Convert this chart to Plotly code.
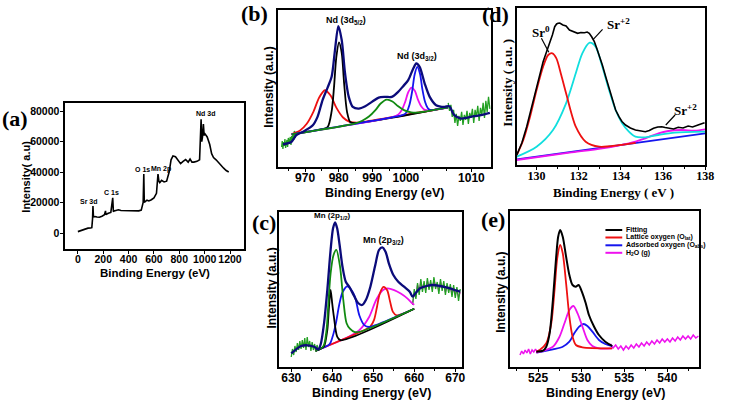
import numpy as np
import plotly.graph_objects as go

W, H = 730, 402
SANS = "Liberation Sans, Arial, sans-serif"
SERIF = "Liberation Serif, Times New Roman, serif"

# ---------------- (a) survey spectrum ----------------
a_be = [0, 20, 40, 60, 80, 100, 110, 116, 119, 123, 135, 150, 170, 190, 210, 218, 221, 225, 240, 260, 275,
        280, 285, 300, 320, 340, 360, 380, 400, 420, 440, 460, 480, 500, 515, 520, 524, 529, 545, 560, 580,
        600, 620, 632, 639, 646, 660, 680, 700, 720, 735, 750, 770, 790, 810, 830, 850, 870, 885, 900, 915,
        940, 960, 972, 977, 983, 990, 996, 1003, 1020, 1040, 1055, 1070, 1090, 1110, 1130, 1150, 1170,
        1190, 1200]
a_int = [900, 1500, 2500, 3000, 3200, 3300, 3500, 9500, 17700, 10500, 10800, 10500, 10300, 11000, 12000,
         14500, 12000, 12300, 13000, 13500, 23100, 14000, 14500, 14800, 15200, 14800, 14700, 14600, 14500,
         14400, 14300, 14200, 14500, 15000, 20000, 38700, 20000, 20500, 21500, 21000, 21800, 23000, 26000,
         38700, 34000, 33000, 34500, 33500, 34000, 40000, 48000, 50500, 50000, 47500, 45500, 47000, 48200,
         46500, 48500, 46500, 46500, 47000, 48000, 74500, 60000, 63000, 71500, 64000, 65000, 63000, 58000,
         52000, 49500, 48000, 46000, 44000, 42500, 41000, 40000]
a_xticks = [0, 200, 400, 600, 800, 1000, 1200]
a_yticks = [0, 20000, 40000, 60000, 80000]
a_labels = ["Sr 3d", "C 1s", "O 1s", "Mn 2p", "Nd 3d"]
a_lab_x = [91, 267, 509, 652, 1007]
a_lab_y = [20500, 26700, 41800, 42200, 78500]

# ---------------- (b) Nd 3d ----------------
b_bg_x = [966.0, 1012.5]
b_bg_y = [32.6, 59.4]
b_raw_l_x = [963.0, 963.2, 963.4, 963.6, 963.8, 964.0, 964.2, 964.4, 964.6, 964.8, 965.0, 965.2, 965.4,
             965.6, 965.8, 966.0, 966.2, 966.4, 966.6, 966.8, 967.0, 967.2, 967.4, 967.6]
b_raw_l_y = [20, 26, 18, 25, 21, 28, 19, 24, 27, 20, 29, 23, 26, 30, 22, 31, 25, 34, 27, 36, 29, 35, 31, 34]
b_raw_r_x = [1012.6, 1013.0, 1013.4, 1013.8, 1014.2, 1014.6, 1015.0, 1015.4, 1015.8, 1016.2, 1016.6,
             1017.0, 1017.4, 1017.8, 1018.2, 1018.6, 1019.0, 1019.4, 1019.8, 1020.2, 1020.6, 1021.0,
             1021.4, 1021.8, 1022.2, 1022.6, 1023.0, 1023.4, 1023.8, 1024.2, 1024.6, 1025.0]
b_raw_r_y = [64, 56, 62, 50, 57, 44, 53, 41, 51, 46, 55, 42, 52, 47, 56, 43, 54, 49, 58, 44, 57, 50, 61,
             46, 59, 52, 64, 49, 66, 55, 70, 58]
b_env_x = [963.4, 965.9, 967.4, 969.8, 972.3, 973.7, 975.2, 976.7, 977.9, 978.9, 979.9, 980.9, 981.9,
           983.0, 984.2, 986.0, 987.9, 989.9, 991.9, 993.8, 995.8, 997.7, 999.2, 1000.7, 1002.2, 1003.1,
           1004.1, 1005.6, 1007.1, 1009.0, 1011.5, 1012.9, 1014.4, 1016.4, 1018.3, 1020.3, 1022.3, 1025.0]
b_env_y = [22.7, 25, 31.7, 36, 41.7, 50, 66.7, 79.3, 90, 116.7, 140.7, 126.7, 93.3, 70, 60, 58.3, 60.7,
           65, 69.3, 70, 70, 75, 80.7, 86.7, 98.3, 103.3, 100, 83.3, 70, 61.7, 60, 60.7, 51.7, 48.3, 49.3,
           50.7, 51.7, 54]
b_red_x = [966.0, 968.5, 970.5, 972.5, 974.2, 975.9, 977.6, 979.3, 981.3, 983.3, 985.5, 988.0, 1012.5]
b_red_h = [0.3, 2.5, 8, 19, 32, 38.3, 32, 19, 8, 2.5, 0.5, 0, 0]
b_black_x = [966.0, 975.0, 976.7, 977.9, 978.6, 979.3, 980.1, 980.9, 981.6, 982.5, 983.5, 985.5, 1012.5]
b_black_h = [0, 0, 1, 16, 39.3, 69.3, 83.7, 72.7, 42.7, 12.7, 2, 0, 0]
b_green_x = [966.0, 985.0, 987.0, 989.0, 991.0, 992.5, 994.3, 996.0, 997.6, 999.6, 1001.6, 1004.0, 1012.5]
b_green_h = [0, 0, 1.5, 4.5, 10, 15.5, 18.3, 15.5, 10, 4.5, 1.5, 0, 0]
b_mag_x = [966.0, 996.0, 997.8, 998.8, 999.8, 1000.7, 1001.7, 1002.7, 1003.6, 1004.6, 1005.6, 1007.5, 1012.5]
b_mag_h = [0, 0, 1.6, 5.5, 13, 22, 26, 22, 13, 5.5, 1.6, 0, 0]
b_blue_x = [966.0, 998.5, 999.6, 1000.3, 1001.1, 1001.9, 1002.6, 1003.4, 1004.2, 1004.9, 1005.7, 1006.5,
            1007.2, 1008.5, 1012.5]
b_blue_h = [0, 0, 0.6, 2.9, 9.6, 22.8, 38.4, 45.7, 38.4, 22.8, 9.6, 2.9, 0.6, 0, 0]
b_tick_vals = [970, 980, 990, 1000, 1019.5]
b_tick_text = ["970", "980", "990", "1000", "1010"]

# ---------------- (c) Mn 2p ----------------
c_bg_x = [636.0, 660.0]
c_bg_y = [16.3, 58.2]
c_raw_l_x = [630.0, 630.3, 630.6, 630.9, 631.2, 631.5, 631.8, 632.1, 632.4, 632.7, 633.0, 633.3, 633.6,
             633.9, 634.2, 634.5, 634.8, 635.1, 635.4, 635.7, 636.0, 636.3, 636.6]
c_raw_l_y = [10, 18, 12, 21, 15, 24, 17, 26, 18, 27, 19, 29, 17, 30, 20, 26, 16, 25, 17, 23, 15, 22, 16]
c_raw_r_x = [659.6, 660.0, 660.4, 660.8, 661.2, 661.6, 662.0, 662.4, 662.8, 663.2, 663.6, 664.0, 664.4,
             664.8, 665.2, 665.6, 666.0, 666.4, 666.8, 667.2, 667.6, 668.0, 668.4, 668.8, 669.2, 669.6,
             670.0, 670.4, 670.8, 671.2]
c_raw_r_y = [62, 78, 68, 84, 72, 88, 75, 86, 74, 89, 77, 87, 75, 90, 78, 85, 73, 88, 76, 86, 72, 84, 74,
             83, 70, 82, 69, 80, 66, 78]
c_raw_r_y2 = [64, 74, 70, 82, 76, 85, 79, 83, 77, 86, 80, 84, 78, 87, 81, 83, 76, 85, 79, 83, 75, 81, 77,
              80, 73, 79, 72, 77, 70, 75]
c_env_x = [630.0, 631.2, 632.4, 634.0, 635.6, 636.6, 637.2, 638.0, 638.8, 639.6, 640.2, 640.7, 641.2,
           641.8, 642.5, 643.3, 644.2, 645.3, 646.3, 647.3, 648.2, 649.3, 650.5, 651.4, 652.2, 653.0,
           653.8, 654.9, 656.1, 657.5, 658.9, 659.6, 660.3, 661.4, 663.0, 664.6, 666.2, 667.8, 669.4, 671.2]
c_env_y = [13.7, 17.7, 21.0, 21.7, 20.3, 17.7, 23.0, 43.7, 77.0, 117.0, 138.7, 144.7, 138.7, 122.0,
           100.3, 85.3, 80.0, 71.3, 64.0, 62.0, 67.0, 80.3, 102.0, 117.0, 119.7, 115.3, 103.7, 92.0, 85.3,
           80.3, 75.3, 70.3, 73.7, 78.7, 81.0, 82.0, 81.0, 79.7, 77.7, 75.3]
c_green_x = [636, 637.8, 638.6, 639.0, 639.6, 640.3, 641.0, 641.9, 642.7, 643.5, 644.3, 645.5, 647, 660]
c_green_h = [0, 1, 16, 38.7, 71, 88, 92, 73.7, 39, 14.3, 7.5, 2, 0, 0]
c_black_x = [636, 637.2, 638.0, 638.8, 639.2, 639.6, 640.0, 640.4, 641.2, 642.0, 660]
c_black_h = [0, 0, 1, 16, 38, 54.4, 40, 26.4, 5, 0, 0]
c_blue_x = [636, 637, 639.3, 640.1, 640.9, 641.7, 642.5, 643.7, 645.4, 646.6, 647.8, 649, 651, 660]
c_blue_h = [0, 0, 0.5, 7, 19, 36, 47, 51, 39, 17, 5, 1, 0, 0]
c_red_x = [636, 648, 649.3, 650.2, 650.9, 651.6, 652.5, 653.4, 654.1, 654.8, 655.7, 657, 660]
c_red_h = [0, 0, 1, 6, 17.5, 30, 35, 30, 17.5, 6, 1, 0, 0]
c_mag_x = [636, 644, 646.6, 649.0, 650.7, 652.3, 653.5, 655.1, 656.7, 658.3, 659.5, 660]
c_mag_h = [0, 0, 2, 11, 25, 32, 31.8, 27.3, 21, 13.4, 6.3, 4]

# ---------------- (d) Sr 3d ----------------
d_raw_x = [129.06, 129.3, 129.53, 129.75, 130.0, 130.15, 130.31, 130.47, 130.63, 130.75, 130.86, 130.95,
           131.02, 131.1, 131.25, 131.4, 131.56, 131.7, 131.85, 131.95, 132.1, 132.27, 132.4, 132.5,
           132.62, 132.74, 132.85, 132.97, 133.12, 133.28, 133.45, 133.6, 133.75, 133.91, 134.05, 134.22,
           134.45, 134.69, 134.9, 135.16, 135.35, 135.55, 135.75, 135.94, 136.1, 136.25, 136.5, 136.72,
           136.95, 137.19, 137.4, 137.66, 137.8, 137.97]
d_raw_y = [10, 22, 38.3, 57, 78.3, 91, 103.3, 113, 121.7, 130, 138.3, 141, 141.7, 142, 140, 139, 135, 134,
           133, 131.7, 132.5, 132.3, 133, 131.7, 128, 123.3, 117, 110, 100, 88.3, 76, 65, 55, 48.3, 43.5,
           40, 37, 35, 34, 33.3, 34.5, 36.7, 38, 38.3, 37.5, 36.7, 36, 37.7, 37, 39, 38, 40, 41, 42.3]
d_sr0_x = [129.06, 129.37, 129.69, 130.0, 130.31, 130.55, 130.75, 130.94, 131.17, 131.4, 131.86, 132.33,
           132.97, 133.9, 134.7]
d_sr0_y = [10, 25, 48.3, 75, 98.3, 110, 111.7, 106.7, 90, 71.7, 38.3, 23.3, 18.3, 19.8, 22.2]
d_sr2_x = [129.06, 130.0, 130.78, 131.4, 131.86, 132.17, 132.52, 132.8, 133.12, 133.44, 133.75, 134.06,
           134.38, 134.69, 135.16, 135.78, 136.56, 138.0]
d_sr2_y = [8.3, 18.3, 35, 61.7, 91.7, 111.7, 122.3, 118.3, 98.3, 75, 55, 41.7, 33.3, 28.3, 27.7, 30,
           32.3, 33.3]
d_sr2b_x = [129.06, 131.56, 133.12, 134.38, 135.16, 135.78, 136.25, 136.88, 137.5, 138.0]
d_sr2b_y = [5, 12.3, 16.7, 21.7, 26.7, 31.7, 34, 35, 34.3, 35.7]
d_bg_x = [129.06, 138.0]
d_bg_y = [5.7, 31.7]

# ---------------- (e) O 1s ----------------
e_raw_l_x = [522.9, 523.1, 523.3, 523.5, 523.7, 523.9, 524.1, 524.3, 524.5, 524.7, 524.9, 525.1]
e_raw_l_y = [12, 16, 13, 17, 14, 18, 13, 17, 15, 18, 15, 17]
e_raw_r_x = [533.4, 533.7, 534.0, 534.3, 534.6, 534.9, 535.2, 535.5, 535.8, 536.1, 536.4, 536.7, 537.0,
             537.3, 537.6, 537.9, 538.2, 538.5, 538.8, 539.1, 539.4, 539.7, 540.0, 540.3, 540.6, 540.9,
             541.2, 541.5, 541.8, 542.1, 542.4, 542.7, 543.0, 543.3, 543.6]
e_raw_r_y = [23, 19, 22, 18, 21, 17, 21, 18, 22, 19, 23, 20, 24, 21, 25, 22, 26, 23, 27, 24, 28, 25, 28,
             25, 29, 26, 30, 27, 31, 28, 31, 28, 32, 29, 31]
e_fit_x = [524.8, 525.57, 525.95, 526.34, 526.72, 527.1, 527.33, 527.56, 527.86, 528.25, 528.63, 529.0,
           529.4, 529.7, 530.15, 530.53, 530.9, 531.5, 532.06, 532.8, 533.6]
e_fit_y = [15.3, 16.3, 20.3, 33.7, 67, 110.3, 130.3, 137, 130.3, 110.3, 92, 82, 80.3, 82, 73.7, 63.7, 52,
           40.3, 32, 25.3, 21]
e_lat_x = [524.8, 525.19, 525.95, 526.53, 526.91, 527.22, 527.56, 527.86, 528.25, 528.63, 529.0, 529.39,
           530.15, 533.6]
e_lat_y = [15.3, 17, 23.7, 43.7, 77, 108.7, 122, 113.7, 83.7, 50.3, 30.3, 22, 19.7, 18.7]
e_h2o_x = [524.8, 526.72, 527.49, 528.06, 528.63, 529.1, 529.58, 530.15, 530.72, 531.3, 532.06, 533.6]
e_h2o_y = [14.3, 20.3, 30.3, 43.7, 57, 61, 53.7, 40.3, 27, 21, 18.7, 18.7]
e_abs_x = [524.8, 526.72, 527.86, 528.63, 529.2, 529.77, 530.28, 530.72, 531.3, 532.06, 532.8, 533.6]
e_abs_y = [14.3, 17.7, 20.3, 25.3, 33.7, 40.3, 43, 41, 35.3, 27, 23, 21]
e_legend = ["Fitting", "Lattice oxygen (O<sub>lat</sub>)", "Adsorbed oxygen (O<sub>abs</sub>)",
            "H<sub>2</sub>O (g)"]

# ---------------- colours ----------------
BLACK = "#000000"
RED = "#ee1111"
GREEN = "#118a11"
RAWGREEN = "#22a022"
BLUE = "#1515ee"
MAG = "#ee11ee"
NAVY = "#0b0b7a"
CYAN = "#11dede"

fig = go.Figure()


def add(x, y, color, ax, width=1.8, shape="spline", smooth=0.8):
    fig.add_trace(go.Scatter(x=x, y=y, mode="lines", xaxis="x" + ax, yaxis="y" + ax,
                             line=dict(color=color, width=width, shape=shape,
                                       smoothing=smooth if shape == "spline" else None),
                             showlegend=False, hoverinfo="skip"))


def on_bg(x, h, bx, by):
    return list(np.interp(x, bx, by) + np.array(h))


# (a)
add(a_be, a_int, BLACK, "1", width=1.6, shape="linear")

# (b)
add(b_raw_l_x, b_raw_l_y, RAWGREEN, "2", width=1.3, shape="linear")
add(b_raw_r_x, b_raw_r_y, RAWGREEN, "2", width=1.3, shape="linear")
add(b_red_x, on_bg(b_red_x, b_red_h, b_bg_x, b_bg_y), RED, "2")
add(b_black_x, on_bg(b_black_x, b_black_h, b_bg_x, b_bg_y), BLACK, "2")
add(b_mag_x, on_bg(b_mag_x, b_mag_h, b_bg_x, b_bg_y), MAG, "2")
add(b_blue_x, on_bg(b_blue_x, b_blue_h, b_bg_x, b_bg_y), BLUE, "2")
add(b_green_x, on_bg(b_green_x, b_green_h, b_bg_x, b_bg_y), GREEN, "2")
add(b_env_x, b_env_y, NAVY, "2", width=2.3)

# (c)
add(c_raw_r_x, c_raw_r_y2, MAG, "3", width=1.3, shape="linear")
add(c_raw_l_x, c_raw_l_y, RAWGREEN, "3", width=1.3, shape="linear")
add(c_raw_r_x, c_raw_r_y, RAWGREEN, "3", width=1.3, shape="linear")
add(c_mag_x, on_bg(c_mag_x, c_mag_h, c_bg_x, c_bg_y), MAG, "3")
add(c_red_x, on_bg(c_red_x, c_red_h, c_bg_x, c_bg_y), RED, "3")
add(c_blue_x, on_bg(c_blue_x, c_blue_h, c_bg_x, c_bg_y), BLUE, "3")
add(c_black_x, on_bg(c_black_x, c_black_h, c_bg_x, c_bg_y), BLACK, "3")
add(c_green_x, on_bg(c_green_x, c_green_h, c_bg_x, c_bg_y), GREEN, "3")
add(c_env_x, c_env_y, NAVY, "3", width=2.3)

# (d)
add(d_bg_x, d_bg_y, BLUE, "4", width=1.8, shape="linear")
add(d_sr2b_x, d_sr2b_y, MAG, "4")
add(d_sr2_x, d_sr2_y, CYAN, "4")
add(d_sr0_x, d_sr0_y, RED, "4")
add(d_raw_x, d_raw_y, BLACK, "4", width=1.6, shape="linear")

# (e)
add(e_raw_l_x, e_raw_l_y, MAG, "5", width=1.5, shape="linear")
add(e_raw_r_x, e_raw_r_y, MAG, "5", width=1.5, shape="linear")
add(e_abs_x, e_abs_y, BLUE, "5")
add(e_h2o_x, e_h2o_y, MAG, "5")
add(e_lat_x, e_lat_y, RED, "5")
add(e_fit_x, e_fit_y, BLACK, "5", width=2.0)

# ---------------- axes ----------------
boxes = {"1": (66, 247, 103, 249), "2": (281, 497, 10, 167), "3": (282, 468, 212, 367),
         "4": (523, 714, 8, 165), "5": (516, 708, 211, 367)}
xr = {"1": [-100, 1310], "2": [961.8, 1025.3], "3": [626.9, 671.7], "4": [129.05, 138.0],
      "5": [521.7, 543.7]}
yr = {"1": [-10490, 85250], "2": [0, 156.7], "3": [0, 155], "4": [0, 157], "5": [0, 156]}

layout = dict(width=W, height=H, margin=dict(l=0, r=0, t=0, b=0), paper_bgcolor="white",
              plot_bgcolor="white", showlegend=False)

tick_sans = dict(family=SANS, size=12, color="black", weight="bold")
tick_serif = dict(family=SERIF, size=12, color="black", weight="bold")
tick_a = dict(family=SANS, size=10.5, color="black", weight="bold")


def minor(vals):
    return dict(tickvals=vals, ticks="outside", ticklen=2, tickcolor="black")


xticks = {
    "1": dict(tickvals=a_xticks, ticktext=[str(v) for v in a_xticks], tickfont=tick_a, tickangle=0),
    "2": dict(tickvals=b_tick_vals, ticktext=b_tick_text, tickfont=tick_sans,
              minor=minor([965, 975, 985, 995, 1005, 1012])),
    "3": dict(tickvals=[630, 640, 650, 660, 670], ticktext=["630", "640", "650", "660", "670"],
              tickfont=tick_sans, minor=minor([635, 645, 655, 665])),
    "4": dict(tickvals=[130, 132, 134, 136, 138], ticktext=["130", "132", "134", "136", "138"],
              tickfont=tick_serif, minor=minor([129, 131, 133, 135, 137])),
    "5": dict(tickvals=[525, 530, 535, 540], ticktext=["525", "530", "535", "540"], tickfont=tick_sans,
              minor=minor([522.5, 527.5, 532.5, 537.5, 542.5])),
}

for k, (x0, x1, y0, y1) in boxes.items():
    xa = dict(domain=[x0 / W, x1 / W], range=xr[k], anchor="y" + k, showline=True, mirror=True,
              linecolor="black", linewidth=1.5, ticks="outside", ticklen=3, tickwidth=1.2,
              tickcolor="black", showgrid=False, zeroline=False, tickmode="array", tickangle=0,
              ticklabelstandoff=-4)
    xa.update(xticks[k])
    ya = dict(domain=[1 - y1 / H, 1 - y0 / H], range=yr[k], anchor="x" + k, showline=True, mirror=True,
              linecolor="black", linewidth=1.5, showgrid=False, zeroline=False)
    if k == "1":
        ya.update(ticks="outside", ticklen=3, tickwidth=1.2, tickcolor="black", tickmode="array",
                  tickvals=a_yticks, ticktext=[str(v) for v in a_yticks], tickfont=tick_a,
                  ticklabelstandoff=-1)
        xa.update(ticklabelstandoff=-3)
    else:
        ya.update(showticklabels=False, ticks="")
    name = "" if k == "1" else k
    layout["xaxis" + name] = xa
    layout["yaxis" + name] = ya

fig.update_layout(**layout)


def pann(text, xp, yp, size, family=SANS, angle=0, xanchor="center"):
    fig.add_annotation(text=text, x=xp / W, y=1 - yp / H, xref="paper", yref="paper",
                       showarrow=False, textangle=angle, xanchor=xanchor, yanchor="middle",
                       font=dict(family=family, size=size, color="black", weight="bold"))


def dann(text, x, y, ax, size, family=SANS):
    fig.add_annotation(text=text, x=x, y=y, xref="x" + ax, yref="y" + ax, showarrow=False,
                       xanchor="center", yanchor="middle",
                       font=dict(family=family, size=size, color="black", weight="bold"))


# panel letters
pann("(a)", 15, 119, 22, SERIF)
pann("(b)", 258, 13, 22, SERIF)
pann("(c)", 267, 222, 22, SERIF)
pann("(d)", 502, 15, 22, SERIF)
pann("(e)", 499, 219, 22, SERIF)

# axis titles
pann("Binding Energy (eV)", 157, 273, 11.5)
pann("Intensity( a.u)", 26, 177, 11, angle=-90)
pann("Binding Energy (eV)", 389, 193, 12.5)
pann("Intensity (a.u.)", 272, 87, 12, angle=-90)
pann("Binding Energy (eV)", 376, 393, 12.5)
pann("Intensity (a.u.)", 275, 288, 12, angle=-90)
pann("Binding Energy ( eV )", 621, 192, 13, SERIF)
pann("Intensity ( a.u. )", 513, 83, 13, SERIF, angle=-90)
pann("Binding Energy (eV)", 613, 393, 12.5)
pann("Intensity (a.u.)", 507, 292, 12, angle=-90)

# peak labels
for t, x, y in zip(a_labels, a_lab_x, a_lab_y):
    dann(t, x, y, "1", 7)
dann("Nd (3d<sub>5/2</sub>)", 982.3, 146, "2", 9)
dann("Nd (3d<sub>3/2</sub>)", 1003.4, 110.7, "2", 9)
dann("Mn (2p<sub>1/2</sub>)", 640.1, 151, "3", 8)
dann("Mn (2p<sub>3/2</sub>)", 652.6, 127, "3", 9)
dann("Sr<sup>0</sup>", 130.2, 133, "4", 13, SERIF)
dann("Sr<sup>+2</sup>", 133.9, 141, "4", 13, SERIF)
dann("Sr<sup>+2</sup>", 137.06, 55, "4", 13, SERIF)

for (x0, y0, x1, y1) in [(130.23, 126.7, 130.58, 112.7), (133.13, 135.7, 132.69, 125.7),
                         (136.57, 50, 136.13, 40)]:
    fig.add_shape(type="line", x0=x0, y0=y0, x1=x1, y1=y1, xref="x4", yref="y4",
                  line=dict(color="black", width=1.2))

# legend of (e)
leg_cols = [BLACK, RED, BLUE, MAG]
leg_rows = [230, 237.5, 245.3, 252.8]
for t, c, yy in zip(e_legend, leg_cols, leg_rows):
    fig.add_shape(type="line", x0=613 / W, x1=630 / W, y0=1 - yy / H, y1=1 - yy / H,
                  xref="paper", yref="paper", line=dict(color=c, width=2))
    pann(t, 632, yy, 7, xanchor="left")

fig.write_html("out.html")
